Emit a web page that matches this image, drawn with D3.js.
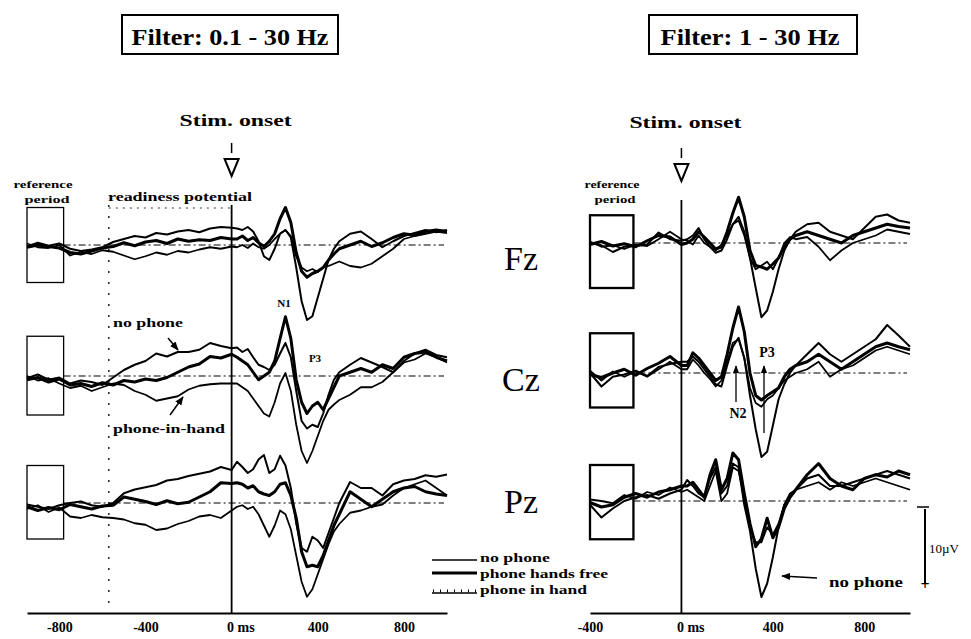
<!DOCTYPE html>
<html><head><meta charset="utf-8">
<script src="https://cdn.jsdelivr.net/npm/d3@7"></script>
<style>body{margin:0;background:#fff}</style>
</head><body>
<svg id="c" width="971" height="639"></svg>
<script>
// ---------- DATA (µV, positive plotted downward as in ERP convention) ----------
const timesL = [-950,-900,-850,-800,-750,-700,-650,-600,-550,-500,-450,-400,-350,-300,-250,-200,-150,-100,-50,0,
  25,50,75,100,125,150,175,200,225,250,275,300,325,350,375,400,425,450,475,500,
  550,600,650,700,750,800,850,900,950,1000];
const timesR = [-400,-350,-300,-250,-200,-150,-100,-50,0,
  25,50,75,100,125,150,175,200,225,250,275,300,325,350,375,400,425,450,475,500,
  550,600,650,700,750,800,850,900,950,1000];

const conditions = ["no phone", "phone hands free", "phone in hand"];
const electrodes = ["Fz", "Cz", "Pz"];
const ticksL = [-800, -400, 0, 400, 800];
const ticksR = [-400, 0, 400, 800];

// Filter 0.1 - 30 Hz
const fzNoL = [0.2,-0.3,0.1,-0.2,0.5,0.8,0.6,0.3,-0.4,-0.8,-1.2,-1.0,-1.6,-1.4,-1.8,-2.0,-1.7,-2.2,-2.4,-2.3,
  -2.2,-2.0,-2.4,-1.8,-0.5,1.5,2.0,0.5,-1.5,-2.0,-1.0,3.0,7.5,10.0,9.5,7.0,4.5,2.0,0.5,-0.5,
  -1.5,-1.8,-0.8,0.3,-0.5,-1.2,-1.6,-2.0,-1.7,-2.0];
const fzHfL = [0.3,0,0.2,0.4,1.0,1.2,0.8,0.4,0.2,-0.3,0.1,-0.4,-0.6,-0.2,-0.8,-0.5,-0.7,-0.6,-1.0,-0.8,
  -0.8,-1.2,-0.6,-1.0,-0.3,0.2,-0.5,-1.5,-3.5,-5.0,-3.0,1.0,3.5,4.3,3.8,3.5,3.0,2.0,1.2,0.5,
  0.0,-0.5,0.2,-0.3,-1.0,-1.5,-1.3,-1.8,-2.0,-1.8];
const fzIhL = [-0.2,0.3,0.4,0,1.4,0.9,1.2,0.7,0.9,1.4,1.9,1.5,1.0,1.3,0.8,1.0,0.6,0.3,0.5,0.2,
  0.3,0,0.4,-0.2,0.3,0.5,0,-0.8,-1.5,-2.0,-1.2,1.5,3.0,3.5,3.2,3.6,3.0,2.8,2.5,2.2,
  2.8,3.0,2.5,1.5,0.5,-0.8,-1.2,-1.5,-1.8,-1.6];

const czNoL = [0.3,-0.2,0.5,0.2,1.0,0.6,0.8,1.2,0.2,-0.8,-1.5,-2.0,-3.0,-2.6,-3.2,-3.2,-3.5,-4.4,-4.0,-3.7,
  -3.8,-3.2,-3.6,-2.5,-1.5,-1.2,-0.8,-1.5,-3.0,-4.4,-2.5,2.0,6.0,7.0,6.5,6.8,5.0,2.5,0.5,-0.5,
  -1.5,-2.4,-1.8,-1.2,-0.5,-2.0,-3.0,-3.5,-2.8,-2.5];
const czHfL = [0.5,0.2,0.8,0.4,1.2,1.0,1.4,0.9,1.2,0.6,0.8,0.4,0.6,0.2,-0.5,-1.2,-1.6,-2.6,-2.4,-2.9,
  -2.5,-2.0,-1.5,-0.5,0.5,0.0,-0.5,-2.0,-5.0,-7.9,-5.0,0.5,3.5,5.0,4.0,3.5,4.5,3.0,1.5,0.0,
  -0.5,-1.0,-0.5,-1.5,-1.0,-2.5,-3.0,-3.2,-2.5,-2.0];
const czIhL = [0.0,0.6,0.3,1.0,1.6,1.3,2.0,1.5,1.0,1.2,2.0,2.5,3.3,3.0,2.7,1.8,1.3,1.1,1.0,1.0,
  1.0,1.5,2.0,3.0,4.0,5.0,5.4,3.5,1.0,-0.4,2.0,6.5,10.0,11.6,10.0,8.0,6.0,4.5,3.8,3.2,
  2.5,1.5,1.5,0.8,-0.5,-1.8,-2.2,-3.0,-2.5,-1.8];

const pzNoL = [0.2,0.5,0.8,0.3,0,-0.2,0.3,0.5,0,-1.3,-1.8,-2.1,-2.4,-3.0,-3.2,-3.6,-3.9,-4.2,-4.8,-4.4,
  -5.5,-4.8,-4.0,-4.5,-5.8,-6.4,-4.0,-4.5,-6.3,-5.0,-2.0,2.7,6.0,6.5,4.5,5.0,6.0,4.0,2.0,0,
  -2.8,-2.0,-2.0,-1.0,-2.5,-3.0,-3.2,-3.7,-3.5,-3.8];
const pzHfL = [0.5,1.0,0.6,0.9,0.2,0.5,0.8,0.4,0.3,-0.8,-0.5,-0.2,0.2,-0.3,0.1,-0.1,-0.8,-1.5,-2.7,-2.6,
  -2.7,-2.5,-2.0,-2.3,-1.5,-1.2,-1.0,-1.5,-2.5,-2.7,-1.0,2.0,6.5,8.5,8.3,8.5,7.0,5.0,3.0,1.5,
  -1.5,-0.5,0.5,-0.5,-1.5,-2.0,-2.2,-1.5,-1.2,-1.0];
const pzIhL = [0.8,0.3,1.2,0.6,1.8,2.0,1.6,1.9,2.0,2.2,2.7,2.9,3.6,3.4,2.8,2.4,1.8,1.6,2.0,1.0,
  0.5,0.3,0.8,0.5,1.5,3.0,4.5,3.0,1.0,1.5,3.5,7.0,10.5,12.5,11.5,9.5,7.5,5.5,3.8,2.8,
  1.3,1.0,0.5,0.2,-1.0,-2.0,-2.5,-3.0,-2.0,-1.0];

// Filter 1 - 30 Hz
const fzNoR = [0,0.3,1.2,0.5,0.4,0.2,-1.4,-0.5,-0.3,
  -0.5,-1.0,-2.0,-0.5,0.5,1.3,1.0,-0.5,-2.5,-3.5,-1.5,2.0,6.0,9.9,9.0,6.5,3.5,1.0,-0.5,-1.5,
  -2.5,-2.7,-1.5,-1.0,-0.5,-2.0,-3.5,-3.8,-3.0,-2.7];
const fzHfR = [0.2,-0.2,0.4,0.1,0.5,-0.3,-1.0,-0.8,0.2,
  0,-0.5,-1.5,-0.8,0,0.8,0.5,-1.5,-4.0,-6.1,-3.5,1.0,3.0,3.2,3.5,2.8,2.0,0.5,-0.5,-1.0,
  -1.5,-1.0,-0.5,0,-1.0,-1.5,-2.0,-2.5,-2.2,-2.0];
const fzIhR = [-0.2,0.5,0.3,0.8,0.2,0.4,-0.5,-1.5,-0.5,
  -0.3,0.2,-1.0,0.0,0.5,1.0,0.2,-1.0,-2.5,-3.0,-1.0,2.0,3.5,3.0,2.5,3.5,2.0,0.0,-0.8,-0.5,
  -0.8,0.5,2.3,1.0,0,-0.5,-1.0,-1.8,-1.5,-1.2];

const czNoR = [0,1.8,0.5,0.2,-0.3,0.4,-0.8,-1.2,-1.5,
  -1.5,-2.2,-1.5,-0.5,0.5,1.5,1.8,-1.0,-3.5,-4.7,-2.0,3.0,7.5,11.2,10.5,7.0,3.5,1.5,0.0,-1.0,
  -2.5,-4.0,-2.5,-1.5,-2.5,-3.5,-4.5,-6.4,-5.0,-3.5];
const czHfR = [0.2,0.6,0.0,-0.5,0.3,-0.6,-1.3,-2.2,-1.0,
  -1.0,-2.7,-2.0,-1.0,0.0,1.0,0.5,-2.5,-6.0,-8.8,-5.5,0.0,3.0,3.6,3.0,2.5,2.0,0.5,-0.5,-1.0,
  -1.5,-2.5,-1.5,-0.5,-1.5,-2.5,-3.5,-4.0,-3.5,-3.1];
const czIhR = [-0.3,1.0,-0.2,0.5,-0.2,0.5,-0.5,-1.5,-0.5,
  -0.5,-1.8,-1.0,0.0,0.8,1.8,1.0,-1.5,-4.0,-4.5,-2.0,2.0,4.0,4.5,3.5,3.0,2.0,1.0,0.5,0.0,
  -0.5,-1.5,0.5,-0.5,-1.0,-2.0,-3.0,-3.5,-3.0,-2.5];

const pzNoR = [0.5,2.2,1.0,0.0,-0.5,-0.8,-0.3,-1.0,-1.5,
  -2.8,-2.0,-1.0,-0.5,-3.0,-4.5,-1.0,-2.0,-5.0,-4.5,0.5,4.0,9.0,12.8,11.0,7.5,3.5,0.5,-0.5,-1.5,
  -3.0,-3.5,-2.0,-2.0,-2.5,-3.0,-3.5,-4.0,-3.5,-3.0];
const pzHfR = [0.2,0.8,0.5,-0.5,-1.0,-0.5,-1.2,-1.5,-2.0,
  -2.0,-2.5,-1.5,-0.5,-3.5,-5.5,-1.5,-3.0,-6.4,-5.5,-1.0,3.0,6.1,5.0,2.3,4.9,3.5,1.0,-0.5,-1.5,
  -3.5,-5.0,-3.0,-2.0,-1.5,-3.0,-3.5,-3.2,-4.0,-3.5];
const pzIhR = [-0.2,0.0,0.3,-0.8,-0.3,-1.2,-0.8,-1.8,-1.2,
  -1.5,-1.0,-0.5,0.0,-2.0,-4.0,0.0,-1.0,-4.5,-4.0,-0.5,3.5,5.5,5.5,3.5,4.5,3.0,0.5,-1.0,-1.5,
  -2.0,-2.5,-1.5,-2.5,-2.0,-2.5,-3.0,-2.5,-2.0,-1.5];

// ---------- DRAWING ----------
const svg = d3.select("#c");
const serif = "'Liberation Serif','DejaVu Serif',serif";

const xL = d3.scaleLinear().domain([-950, 1000]).range([27, 447]);
const xR = d3.scaleLinear().domain([-400, 1000]).range([590, 910]);
const rowY = (base) => d3.scaleLinear().domain([0, 10]).range([base, base + 75]);

const panels = [
  { x: xL, times: timesL, bases: [245, 376, 503],
    series: [[fzNoL, fzHfL, fzIhL], [czNoL, czHfL, czIhL], [pzNoL, pzHfL, pzIhL]],
    refEnd: -780, refBox: [[-5, 5], [-5.3, 5.2], [-5, 4.8]], boxW: 1.3, stimTop: 205 },
  { x: xR, times: timesR, bases: [243, 373, 501],
    series: [[fzNoR, fzHfR, fzIhR], [czNoR, czHfR, czIhR], [pzNoR, pzHfR, pzIhR]],
    refEnd: -210, refBox: [[-3.7, 6], [-5.3, 4.6], [-4.8, 5.1]], boxW: 2.3, stimTop: 200 }
];
const widths = [2.0, 3.0, 1.8];

const defs = svg.append("defs");
defs.append("marker").attr("id", "ah").attr("viewBox", "0 0 10 10").attr("refX", 9).attr("refY", 5)
  .attr("markerWidth", 6).attr("markerHeight", 6).attr("orient", "auto-start-reverse")
  .append("path").attr("d", "M0,1 L10,5 L0,9 Z").attr("fill", "#000");

panels.forEach((p, pi) => {
  const g = svg.append("g");
  p.bases.forEach((base, ri) => {
    const y = rowY(base);
    g.append("line").attr("x1", p.x(p.refEnd)).attr("x2", p.x(1000) - 3)
      .attr("y1", y(0)).attr("y2", y(0)).attr("stroke", "#000").attr("stroke-width", 1.2)
      .attr("stroke-dasharray", "7,3,2,3");
    const rb = p.refBox[ri];
    g.append("rect").attr("x", p.x(p.x.domain()[0])).attr("y", y(rb[0]))
      .attr("width", p.x(p.refEnd) - p.x(p.x.domain()[0])).attr("height", y(rb[1]) - y(rb[0]))
      .attr("fill", "none").attr("stroke", "#000").attr("stroke-width", p.boxW);
    const line = d3.line().x((d, i) => p.x(p.times[i])).y(d => y(d)).curve(d3.curveLinear);
    p.series[ri].forEach((s, si) => {
      g.append("path").datum(s).attr("d", line).attr("fill", "none").attr("stroke", "#000")
        .attr("stroke-width", widths[si]).attr("stroke-linejoin", "round");
    });
  });
  g.append("line").attr("x1", p.x(0)).attr("x2", p.x(0)).attr("y1", p.stimTop).attr("y2", 613)
    .attr("stroke", "#000").attr("stroke-width", 1.8);
  const ax = d3.axisBottom(p.x).tickValues(pi === 0 ? ticksL : ticksR).tickSize(0).tickPadding(9)
    .tickFormat(d => d === 0 ? "0 ms" : String(d));
  const ga = svg.append("g").attr("transform", "translate(0,613)").call(ax);
  ga.select(".domain").attr("stroke-width", 2.2);
  ga.selectAll("text").attr("font-family", serif).attr("font-weight", "bold").attr("font-size", 14).attr("fill", "#000");
  ga.selectAll(".tick").filter(d => d === 0).select("text").attr("text-anchor", "start").attr("dx", -5);
});

// readiness potential dotted line (left)
svg.append("line").attr("x1", xL(-570)).attr("x2", xL(-570)).attr("y1", 205).attr("y2", 611)
  .attr("stroke", "#000").attr("stroke-width", 1.3).attr("stroke-dasharray", "2,9");
svg.append("line").attr("x1", xL(-570)).attr("x2", xL(0)).attr("y1", 208).attr("y2", 208)
  .attr("stroke", "#000").attr("stroke-width", 0.8).attr("stroke-dasharray", "2,5");

function txt(x, y, s, size, opts = {}) {
  const t = svg.append("text").attr("x", x).attr("y", y).text(s)
    .attr("font-family", serif).attr("font-size", size)
    .attr("font-weight", opts.weight || "bold").attr("text-anchor", opts.anchor || "start").attr("fill", "#000");
  if (opts.len) t.attr("textLength", opts.len).attr("lengthAdjust", "spacingAndGlyphs");
  return t;
}

// filter titles
svg.append("rect").attr("x", 122).attr("y", 15).attr("width", 216).attr("height", 39)
  .attr("fill", "none").attr("stroke", "#000").attr("stroke-width", 2);
txt(230, 45, "Filter: 0.1 - 30 Hz", 23, { anchor: "middle", len: 197 });
svg.append("rect").attr("x", 649).attr("y", 15).attr("width", 208).attr("height", 39)
  .attr("fill", "none").attr("stroke", "#000").attr("stroke-width", 2);
txt(750, 45, "Filter: 1 - 30 Hz", 23, { anchor: "middle", len: 179 });

// stim onset markers
[[xL, 126, 143], [xR, 128, 148]].forEach(([x, ty, tk]) => {
  const cx = x(0);
  txt(cx + 4, ty, "Stim. onset", 17, { anchor: "middle", len: 112 });
  svg.append("line").attr("x1", cx).attr("x2", cx).attr("y1", tk).attr("y2", tk + 10)
    .attr("stroke", "#000").attr("stroke-width", 1.5);
  svg.append("path").attr("d", `M${cx - 7},${tk + 16} L${cx + 7},${tk + 16} L${cx},${tk + 33} Z`)
    .attr("fill", "none").attr("stroke", "#000").attr("stroke-width", 2);
});

// reference period labels
txt(43, 188, "reference", 11, { anchor: "middle", len: 59 });
txt(47, 203, "period", 11, { anchor: "middle", len: 45 });
txt(612, 188, "reference", 11, { anchor: "middle", len: 55 });
txt(615, 203, "period", 11, { anchor: "middle", len: 41 });
txt(108, 201, "readiness potential", 12, { len: 144 });

// electrode labels
[["Fz", 270], ["Cz", 391], ["Pz", 513]].forEach(([e, y]) =>
  txt(521, y, e, 34, { anchor: "middle", weight: "normal" }));

// left annotations
txt(113, 327, "no phone", 13, { len: 70 });
svg.append("line").attr("x1", 168).attr("y1", 338).attr("x2", 178).attr("y2", 350)
  .attr("stroke", "#000").attr("stroke-width", 1.5).attr("marker-end", "url(#ah)");
txt(113, 433, "phone-in-hand", 13, { len: 112 });
svg.append("line").attr("x1", 170).attr("y1", 415).attr("x2", 183).attr("y2", 397)
  .attr("stroke", "#000").attr("stroke-width", 1.5).attr("marker-end", "url(#ah)");
txt(284, 307, "N1", 11, { anchor: "middle" });
txt(315, 362, "P3", 11, { anchor: "middle" });

// right annotations
txt(767, 357, "P3", 14, { anchor: "middle" });
svg.append("line").attr("x1", 764).attr("y1", 433).attr("x2", 764).attr("y2", 366)
  .attr("stroke", "#000").attr("stroke-width", 1.3).attr("marker-end", "url(#ah)");
txt(738, 418, "N2", 14, { anchor: "middle" });
svg.append("line").attr("x1", 736).attr("y1", 402).attr("x2", 736).attr("y2", 366)
  .attr("stroke", "#000").attr("stroke-width", 1.3).attr("marker-end", "url(#ah)");
txt(829, 587, "no phone", 14, { len: 74 });
svg.append("line").attr("x1", 817).attr("y1", 578).attr("x2", 782).attr("y2", 576)
  .attr("stroke", "#000").attr("stroke-width", 1.5).attr("marker-end", "url(#ah)");

// legend
const legY = [560, 573, 593];
const legT = [562, 578, 594];
conditions.forEach((c, i) => {
  svg.append("line").attr("x1", 432).attr("x2", 477).attr("y1", legY[i]).attr("y2", legY[i])
    .attr("stroke", "#000").attr("stroke-width", i === 1 ? 3 : 1.3);
  if (i === 2) {
    svg.append("line").attr("x1", 433).attr("x2", 477).attr("y1", legY[i] - 2).attr("y2", legY[i] - 2)
      .attr("stroke", "#000").attr("stroke-width", 3).attr("stroke-dasharray", "1,6");
  }
  txt(480, legT[i], c, 13, { len: [70, 128, 107][i] });
});

// scale bar 10 µV
const ys = rowY(509);
svg.append("line").attr("x1", 925).attr("x2", 925).attr("y1", ys(0)).attr("y2", ys(10))
  .attr("stroke", "#000").attr("stroke-width", 2);
svg.append("line").attr("x1", 917).attr("x2", 929).attr("y1", ys(0) - 2).attr("y2", ys(0) - 2)
  .attr("stroke", "#000").attr("stroke-width", 1.5);
txt(925, ys(10) + 6, "+", 16, { anchor: "middle" });
txt(929, 553, "10µV", 13, { weight: "normal" });
</script>
</body></html>
